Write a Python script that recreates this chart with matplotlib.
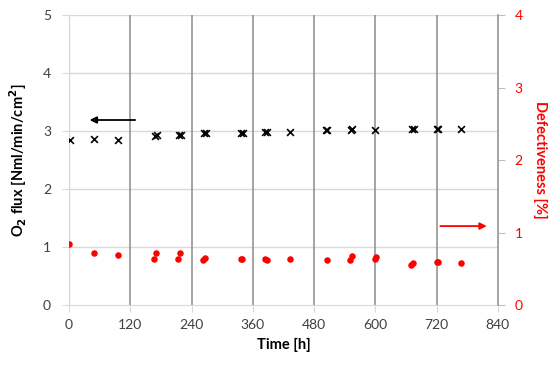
import matplotlib
matplotlib.use("Agg")
import matplotlib.pyplot as plt

plt.rcParams['font.family'] = ['Lato', 'DejaVu Sans']

# Data
flux_time = [2, 48, 96, 168, 172, 216, 220, 264, 268, 336, 340, 384, 388, 432, 504, 506, 552, 555, 600, 672, 675, 720, 722, 768]
flux_val = [2.84, 2.86, 2.85, 2.92, 2.93, 2.93, 2.94, 2.96, 2.97, 2.96, 2.97, 2.98, 2.98, 2.98, 3.02, 3.02, 3.02, 3.03, 3.02, 3.03, 3.04, 3.03, 3.04, 3.04]
def_time = [0, 48, 96, 166, 170, 214, 218, 262, 266, 336, 338, 384, 388, 433, 506, 551, 554, 600, 601, 671, 674, 720, 722, 768]
def_val = [0.84, 0.72, 0.69, 0.63, 0.72, 0.63, 0.72, 0.62, 0.65, 0.63, 0.63, 0.63, 0.62, 0.63, 0.62, 0.62, 0.68, 0.63, 0.66, 0.55, 0.58, 0.59, 0.60, 0.58]
x_ticks = [0, 120, 240, 360, 480, 600, 720, 840]

fig = plt.figure(figsize=(5.5, 3.65), dpi=100)
ax = fig.add_axes([0.1255, 0.164, 0.7795, 0.795])
ax2 = ax.twinx()

ax.set_xlim(0, 840)
ax.set_ylim(0, 5)
ax2.set_ylim(0, 4)
ax.set_xticks(x_ticks)
ax.set_yticks(range(0, 6))
ax2.set_yticks(range(0, 5))

for y in range(1, 6):
    ax.axhline(y, color='#d9d9d9', lw=1, zorder=0)
for x in x_ticks[1:-1]:
    ax.axvline(x, color='#8c8c8c', lw=1.1, zorder=0)
ax.axvline(0, color='#d9d9d9', lw=1, zorder=0)

for s in ['top']:
    ax.spines[s].set_visible(False)
    ax2.spines[s].set_visible(False)
ax.spines['left'].set_color('#d9d9d9')
ax.spines['bottom'].set_color('#d9d9d9')
ax2.spines['left'].set_visible(False)
ax2.spines['bottom'].set_visible(False)
ax.spines['right'].set_visible(False)
ax2.spines['right'].set_color('#8c8c8c')
ax2.spines['right'].set_linewidth(1.1)

ax.tick_params(axis='x', colors='#d9d9d9', labelcolor='#404040', labelsize=10, length=5, pad=5, direction='out')
ax.tick_params(axis='y', colors='#d9d9d9', labelcolor='#404040', labelsize=10, length=5, pad=8, direction='out')
ax2.tick_params(axis='y', colors='#bfbfbf', labelcolor='red', labelsize=10, length=5, pad=7, direction='out')

ax.scatter(flux_time, flux_val, marker='x', color='black', s=24, linewidths=1.2, zorder=3)
ax2.scatter(def_time, def_val, marker='o', color='red', s=22, linewidths=0, zorder=3)

ax.set_xlabel('Time [h]', fontsize=10.5, fontweight='bold', color='black', labelpad=5)
ax.set_ylabel('O$_\\mathbf{2}$ flux [Nml/min/cm$^\\mathbf{2}$]', fontsize=10.5, fontweight='bold', color='black', labelpad=10)
ax2.set_ylabel('Defectiveness [%]', fontsize=10.5, fontweight='bold', color='red', rotation=270, labelpad=18)

ax.annotate('', xy=(35, 3.19), xytext=(135, 3.19),
            arrowprops=dict(arrowstyle='-|>', color='black', lw=1.3, mutation_scale=10))
ax2.annotate('', xy=(824, 1.09), xytext=(722, 1.09),
             arrowprops=dict(arrowstyle='-|>', color='red', lw=1.3, mutation_scale=10))

fig.savefig('out.png', dpi=100)
